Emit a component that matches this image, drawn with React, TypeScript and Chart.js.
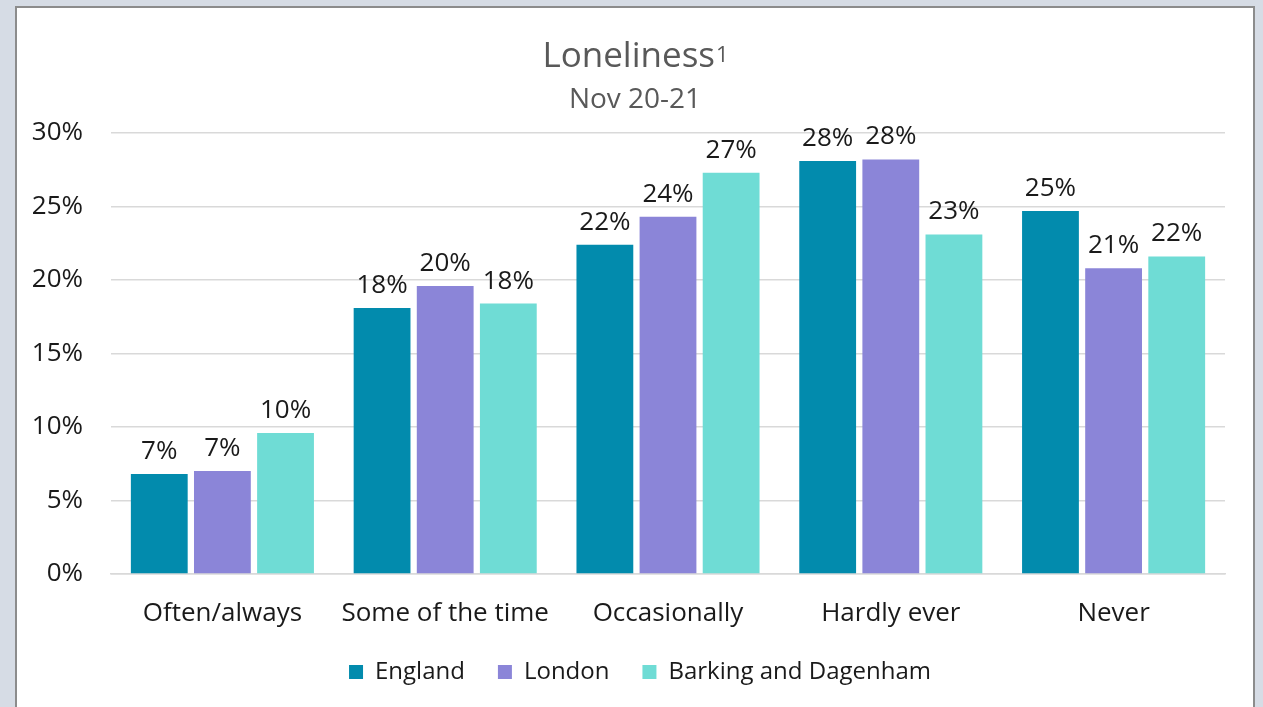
import React, { useEffect, useRef } from "react";
import { Chart, registerables } from "chart.js";

Chart.register(...registerables);

const categories = ["Often/always", "Some of the time", "Occasionally", "Hardly ever", "Never"];
const seriesNames = ["England", "London", "Barking and Dagenham"];
const englandValues = [6.8, 18.1, 22.4, 28.1, 24.7];
const londonValues = [7.0, 19.6, 24.3, 28.2, 20.8];
const barkingValues = [9.6, 18.4, 27.3, 23.1, 21.6];
const seriesColors = ["#028bad", "#8b85d8", "#6fdcd5"];
const yTicks = [0, 5, 10, 15, 20, 25, 30];
const titleText = "Loneliness";
const titleSup = "1";
const subtitleText = "Nov 20-21";

const FONT = "'Open Sans'";

const titlePlugin = {
  id: "customTitle",
  afterDraw(chart: any) {
    const ctx = chart.ctx;
    const cx = chart.width / 2;
    ctx.save();
    ctx.fillStyle = "#595959";
    ctx.textBaseline = "alphabetic";
    ctx.font = `35px ${FONT}`;
    const mainW = ctx.measureText(titleText).width;
    ctx.font = `22px ${FONT}`;
    const supW = ctx.measureText(titleSup).width;
    const start = cx - (mainW + supW) / 2;
    ctx.textAlign = "left";
    ctx.font = `35px ${FONT}`;
    ctx.fillText(titleText, start, 59);
    ctx.font = `22px ${FONT}`;
    ctx.fillText(titleSup, start + mainW + 1, 54);
    ctx.textAlign = "center";
    ctx.font = `28px ${FONT}`;
    ctx.fillText(subtitleText, cx, 100);
    ctx.restore();
  },
};

const legendShiftPlugin = {
  id: "legendShift",
  afterLayout(chart: any) {
    const lg = chart.legend;
    if (lg) {
      lg.left += 19;
      lg.right += 19;
    }
  },
};

const dataLabelPlugin = {
  id: "dataLabels",
  afterDatasetsDraw(chart: any) {
    const ctx = chart.ctx;
    ctx.save();
    ctx.font = `26px ${FONT}`;
    ctx.fillStyle = "#1a1a1a";
    ctx.textAlign = "center";
    ctx.textBaseline = "alphabetic";
    chart.data.datasets.forEach((ds: any, i: number) => {
      const meta = chart.getDatasetMeta(i);
      meta.data.forEach((bar: any, j: number) => {
        const v = ds.data[j];
        ctx.fillText(`${Math.round(v)}%`, bar.x, bar.y - 15);
      });
    });
    ctx.restore();
  },
};

export default function App() {
  const ref = useRef<HTMLCanvasElement>(null);
  useEffect(() => {
    if (!ref.current) return;
    const values = [englandValues, londonValues, barkingValues];
    const chart = new Chart(ref.current, {
      type: "bar",
      data: {
        labels: categories,
        datasets: seriesNames.map((name, i) => ({
          label: name,
          data: values[i],
          backgroundColor: seriesColors[i],
          borderWidth: 0,
          categoryPercentage: 0.85,
          barPercentage: 0.9,
        })),
      },
      options: {
        responsive: false,
        animation: false,
        layout: { padding: { left: 0, right: 28, top: 125, bottom: 13 } },
        plugins: {
          title: { display: false },
          legend: {
            position: "bottom",
            labels: {
              color: "#1a1a1a",
              font: { family: FONT, size: 24 },
              boxWidth: 14,
              boxHeight: 14,
              padding: 33,
            },
          },
          tooltip: { enabled: false },
        },
        scales: {
          x: {
            grid: { display: false, drawTicks: false },
            border: { display: true, color: "#d9d9d9", width: 1.5 },
            ticks: {
              color: "#1a1a1a",
              font: { family: FONT, size: 26 },
              padding: 24,
            },
            afterFit: (scale: any) => {
              scale.height = 53;
            },
          },
          y: {
            min: 0,
            max: 30,
            afterBuildTicks: (scale: any) => {
              scale.ticks = yTicks.map((v) => ({ value: v }));
            },
            afterFit: (scale: any) => {
              scale.width = 94;
            },
            grid: { color: "#d9d9d9", lineWidth: 1.5, drawTicks: false },
            border: { display: false },
            ticks: {
              color: "#1a1a1a",
              font: { family: FONT, size: 26 },
              padding: 28,
              callback: (v: any) => `${v}%`,
            },
          },
        },
      },
      plugins: [dataLabelPlugin, titlePlugin, legendShiftPlugin],
    });
    return () => chart.destroy();
  }, []);

  return (
    <div
      style={{
        position: "fixed",
        left: 0,
        top: 0,
        width: 1263,
        height: 707,
        background: "#d6dce5",
        overflow: "hidden",
      }}
    >
      <div
        style={{
          position: "absolute",
          left: 15,
          top: 6,
          width: 1236,
          height: 720,
          background: "#ffffff",
          border: "2px solid #8c8c8c",
        }}
      >
        <canvas ref={ref} width={1236} height={699} style={{ display: "block" }} />
      </div>
    </div>
  );
}
